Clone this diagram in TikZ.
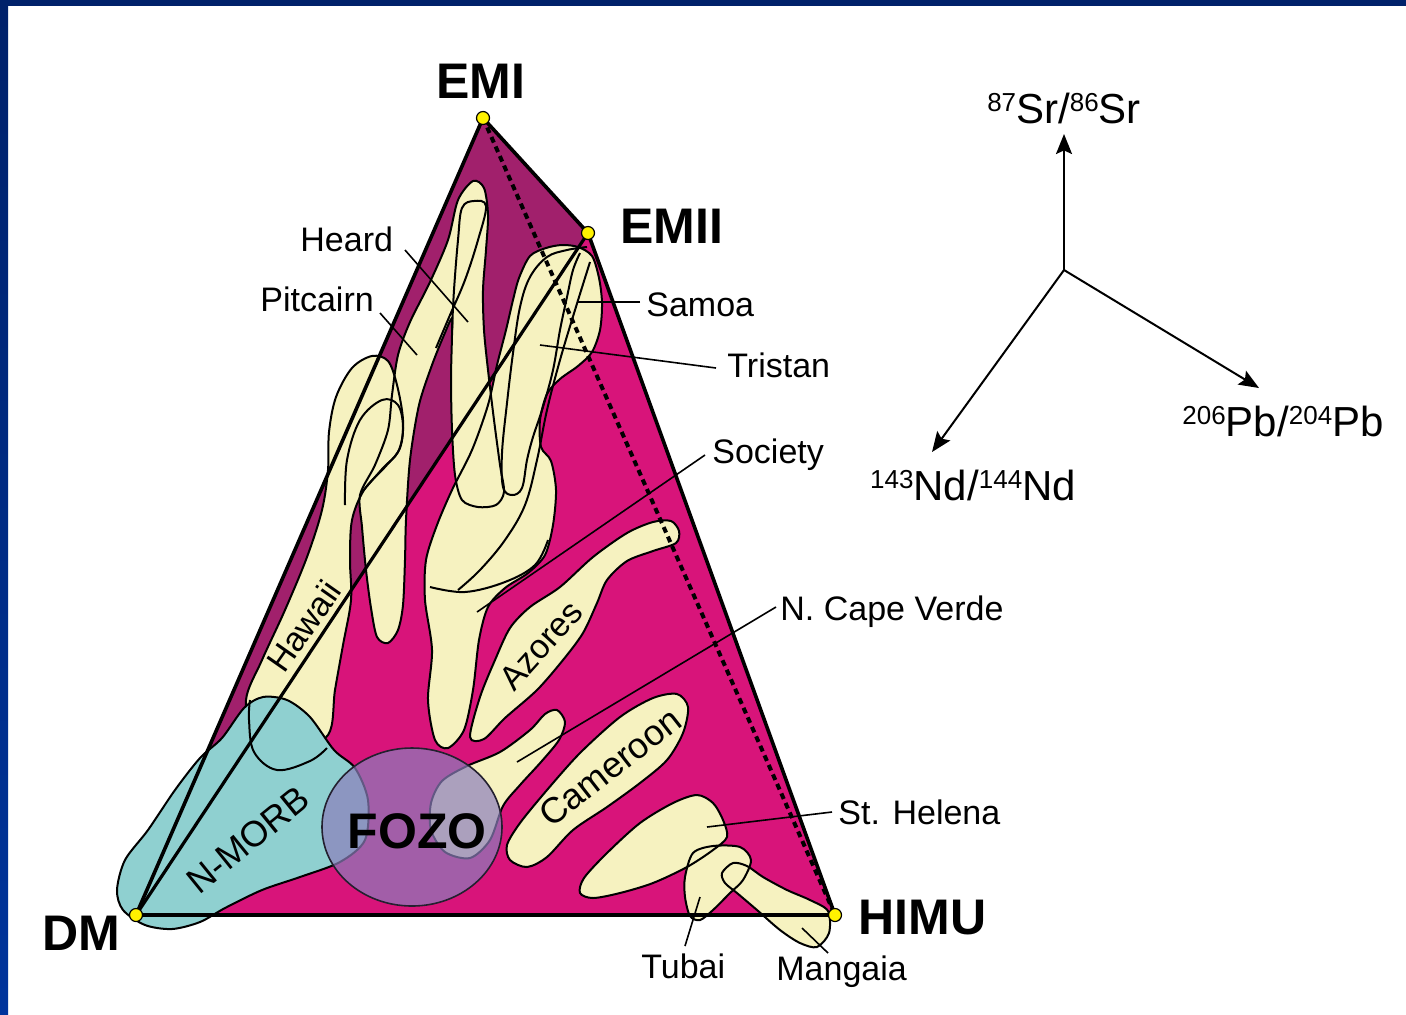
\documentclass[tikz,border=0pt]{standalone}
\usepackage{fontspec}
\setmainfont{Liberation Sans}
\usetikzlibrary{arrows.meta}
\definecolor{darkmag}{HTML}{A1206C}
\definecolor{brightmag}{HTML}{D8147A}
\definecolor{creamf}{HTML}{F6F2C0}
\definecolor{tealf}{HTML}{8FD0D0}
\definecolor{fozof}{HTML}{8C7EBC}
\definecolor{vyellow}{HTML}{FFF200}
\definecolor{frameA}{HTML}{00216A}
\definecolor{frameB}{HTML}{00349C}
\newcommand{\isosup}[1]{\raisebox{6pt}{\fontsize{13}{13}\selectfont #1}}
% field shapes (pixel coordinates of the reference)
\newcommand{\shHaw}[1]{\path[#1] plot[smooth cycle, tension=0.55] coordinates {(292,750) (255,740) (246,700) (262,660) (285,610) (307,557) (322,510) (328,470) (329,432) (336,397) (352,368) (372,356) (388,361) (397,385) (403,420) (400,448) (385,467) (364,490) (352,520) (350,560) (351,600) (343,645) (335,690) (328,735)};}
\newcommand{\shPH}[1]{\path[#1] plot[smooth cycle, tension=0.5] coordinates {(473,181) (484,188) (488,215) (486,250) (483,290) (484,330) (488,370) (494,420) (500,465) (504,492) (496,505) (478,507) (462,500) (455,475) (452,430) (451,380) (452,335) (452,318) (444,335) (432,365) (419,405) (410,460) (406,520) (405,560) (403,605) (398,630) (388,643) (377,637) (371,608) (366,570) (362,527) (360,495) (375,465) (388,430) (392,395) (398,355) (410,322) (430,282) (448,240) (458,200)};}
\newcommand{\shST}[1]{\path[#1] plot[smooth cycle, tension=0.5] coordinates {(530,256) (546,248) (562,245) (578,247) (592,256) (599,278) (602,303) (600,330) (592,352) (578,366) (560,379) (547,394) (540,420) (541,447) (551,461) (556,490) (553,525) (545,555) (528,573) (505,588) (488,607) (479,640) (473,690) (464,730) (448,748) (435,740) (428,700) (432,650) (425,600) (426,560) (437,525) (452,490) (472,450) (488,405) (497,365) (506,330) (513,300) (519,278)};}
\newcommand{\shAz}[1]{\path[#1] plot[smooth cycle, tension=0.5] coordinates {(470,737) (480,697) (495,660) (510,628) (530,607) (560,587) (593,557) (627,533) (653,522) (671,521) (679,531) (676,543) (653,551) (627,561) (607,580) (597,603) (583,633) (563,660) (537,690) (505,718) (484,739)};}
\newcommand{\shCV}[1]{\path[#1] plot[smooth cycle, tension=0.5] coordinates {(557,710) (565,722) (559,740) (541,762) (520,785) (503,806) (490,840) (470,858) (445,852) (431,830) (431,803) (442,781) (467,766) (500,752) (530,730) (545,714)};}
\newcommand{\shCam}[1]{\path[#1] plot[smooth cycle, tension=0.5] coordinates {(510,860) (507,845) (520,823) (547,790) (580,753) (620,717) (653,698) (677,694) (688,707) (683,733) (667,760) (640,783) (607,807) (573,830) (547,857) (527,867)};}
\newcommand{\shSH}[1]{\path[#1] plot[smooth cycle, tension=0.5] coordinates {(580,893) (584,878) (607,853) (640,823) (673,803) (697,795) (713,803) (723,820) (727,837) (713,850) (687,867) (653,883) (620,893) (593,898)};}
\newcommand{\shTu}[1]{\path[#1] plot[smooth cycle, tension=0.5] coordinates {(685,877) (693,853) (713,846) (740,847) (751,860) (743,880) (730,893) (713,910) (700,920) (690,916) (685,897)};}
\newcommand{\shMa}[1]{\path[#1] plot[smooth cycle, tension=0.5] coordinates {(722,873) (733,863) (747,866) (763,877) (787,890) (810,900) (828,911) (829,933) (817,947) (800,943) (780,930) (757,910) (737,893) (725,883)};}
\newcommand{\shNM}[1]{\path[#1] plot[smooth cycle, tension=0.5] coordinates {(117,890) (125,860) (148,830) (175,790) (200,758) (222,738) (244,708) (263,697) (287,700) (310,717) (334,750) (355,768) (368,800) (365,840) (340,862) (300,877) (262,890) (225,908) (200,922) (172,929) (145,925) (123,910)};}
\begin{document}
\begin{tikzpicture}[x=0.5pt,y=-0.5pt,
  outl/.style={draw=black, line width=1pt},
  edgeline/.style={line width=1.8pt, line join=round},
  leader/.style={line width=0.8pt},
  vdot/.style={circle, fill=vyellow, draw=black, line width=0.6pt, minimum size=6.5pt, inner sep=0pt},
  lab/.style={font=\fontsize{17}{17}\selectfont, inner sep=0pt},
  vlab/.style={font=\fontsize{25}{25}\selectfont\bfseries, inner sep=0pt},
  rlab/.style={font=\fontsize{18}{18}\selectfont, inner sep=0pt},
  axlab/.style={font=\fontsize{21}{21}\selectfont, inner sep=0pt},
  axarrow/.style={line width=1pt, -{Stealth[length=10pt,width=8pt,inset=1.8pt]}}
]
\useasboundingbox (0,0) rectangle (1406,1014);
\fill[white] (0,0) rectangle (1406,1014);
\shade[top color=frameA, bottom color=frameB] (0,0) rectangle (8,1014);
\fill[frameA] (0,0) rectangle (1406,6);

% vertices
\coordinate (EMI) at (483,118);
\coordinate (EMII) at (588,233);
\coordinate (DM) at (136,915);
\coordinate (HIMU) at (835,915);

% background triangles
\fill[darkmag] (EMI) -- (EMII) -- (DM) -- cycle;
\fill[brightmag] (DM) -- (EMII) -- (HIMU) -- cycle;

% cream fields: fills
\shST{fill=creamf}
\shPH{fill=creamf}
\shHaw{fill=creamf}
\shAz{fill=creamf}
\shCV{fill=creamf}
\shCam{fill=creamf}
\shSH{fill=creamf}
\shTu{fill=creamf}
\shMa{fill=creamf}
% cream fields: outlines
\shST{outl}
\shPH{outl}
\shHaw{outl}
\shAz{outl}
\shCV{outl}
\shCam{outl}
\shSH{outl}
\shTu{outl}
\shMa{outl}

% inner outlines
\draw[outl] plot[smooth, tension=0.6] coordinates {(345,505) (347,460) (360,420) (382,400) (398,405) (403,428) (398,452) (383,468) (362,492)};
\draw[outl] plot[smooth, tension=0.6] coordinates {(452,330) (454,290) (458,240) (462,208) (474,201) (486,206) (478,240) (465,280) (450,315) (436,348)};
\draw[outl] plot[smooth, tension=0.6] coordinates {(587,247) (567,250) (547,257) (530,277) (520,307) (513,353) (507,403) (502,453) (503,487) (512,495) (522,488) (527,460) (533,437) (543,407) (553,370) (560,330) (567,297) (573,270) (580,253)};
\draw[outl] plot[smooth, tension=0.6] coordinates {(590,262) (575,310) (560,360) (547,410) (537,460) (525,505) (505,540) (480,570) (458,590)};
\draw[outl] plot[smooth, tension=0.6] coordinates {(430,587) (465,592) (505,582) (535,565) (548,540)};

% N-MORB
\shNM{fill=tealf, draw=black, line width=1pt}
\draw[outl] plot[smooth, tension=0.6] coordinates {(250,700) (249,720) (254,752) (277,770) (310,761) (327,748)};

% FOZO
\fill[fozof, fill opacity=0.7] (412,827) ellipse [x radius=90, y radius=79];
\draw[line width=0.8pt, draw=black!75!fozof] (412,827) ellipse [x radius=90, y radius=79];

% triangle lines
\draw[edgeline] (EMI) -- (EMII) -- (HIMU) -- (DM) -- cycle;
\draw[line width=1.6pt] (DM) -- (EMII);
\draw[line width=2pt, dash pattern=on 3pt off 2.2pt] (EMI) -- (HIMU);

% leader lines
\coordinate (hdA) at (405,250); \coordinate (hdB) at (468,322);
\coordinate (pcA) at (380,313); \coordinate (pcB) at (417,355);
\coordinate (smA) at (640,302); \coordinate (smB) at (578,302);
\coordinate (trA) at (716,368); \coordinate (trB) at (540,345);
\coordinate (soA) at (705,455); \coordinate (soB) at (477,612);
\coordinate (cvA) at (776,607); \coordinate (cvB) at (517,762);
\coordinate (shA) at (832,812); \coordinate (shB) at (707,827);
\coordinate (tuA) at (685,946); \coordinate (tuB) at (700,897);
\coordinate (mgA) at (828,953); \coordinate (mgB) at (802,928);
\draw[leader] (hdA) -- (hdB);
\draw[leader] (pcA) -- (pcB);
\draw[leader] (smA) -- (smB);
\draw[leader] (trA) -- (trB);
\draw[leader] (soA) -- (soB);
\draw[leader] (cvA) -- (cvB);
\draw[leader] (shA) -- (shB);
\draw[leader] (tuA) -- (tuB);
\draw[leader] (mgA) -- (mgB);

% vertex dots
\node[vdot] (dEMI) at (EMI) {};
\node[vdot] (dEMII) at (EMII) {};
\node[vdot] (dDM) at (DM) {};
\node[vdot] (dHIMU) at (HIMU) {};

% vertex labels
\node[vlab, anchor=base] (lEMI) at (481,98) {EMI};
\node[vlab, anchor=base west] (lEMII) at (620,243) {EMII};
\node[vlab, anchor=base west] (lDM) at (42,950) {DM};
\node[vlab, anchor=base west] (lHIMU) at (858,934) {HIMU};
\node[vlab, anchor=base] (lFOZO) at (417,848) {FOZO};

% field labels
\node[lab, anchor=base west] (lHeard) at (300,251) {Heard};
\node[lab, anchor=base west] (lPit) at (260,311) {Pitcairn};
\node[lab, anchor=base west] (lSamoa) at (646,316) {Samoa};
\node[lab, anchor=base west] (lTristan) at (727,377) {Tristan};
\node[lab, anchor=base west] (lSociety) at (712,463) {Society};
\node[lab, anchor=base west] (lCV) at (780,620) {N. Cape Verde};
\node[lab, anchor=base west] (lSH) at (838,824) {St. Helena};
\node[lab, anchor=base west] (lTubai) at (641,978) {Tubai};
\node[lab, anchor=base west] (lMang) at (776,980) {Mangaia};
\node[lab, rotate=55] (lHawaii) at (304,626) {Hawaii};
\node[rlab, rotate=39] (lNMORB) at (248,840) {N-MORB};
\node[lab, rotate=48] (lAzores) at (541,645) {Azores};
\node[rlab, rotate=38] (lCam) at (610,767) {Cameroon};

% isotope axes
\coordinate (ax0) at (1064,270);
\coordinate (axSr) at (1064,134);
\coordinate (axNd) at (932,452);
\coordinate (axPb) at (1259,388);
\draw[axarrow] (ax0) -- (axSr);
\draw[axarrow] (ax0) -- (axNd);
\draw[axarrow] (ax0) -- (axPb);
\node[axlab, anchor=base] (lSr) at (1064,123) {\isosup{87}Sr/\isosup{86}Sr};
\node[axlab, anchor=base] (lNd) at (973,500) {\isosup{143}Nd/\isosup{144}Nd};
\node[axlab, anchor=base] (lPb) at (1283,436) {\isosup{206}Pb/\isosup{204}Pb};
\end{tikzpicture}
\end{document}
